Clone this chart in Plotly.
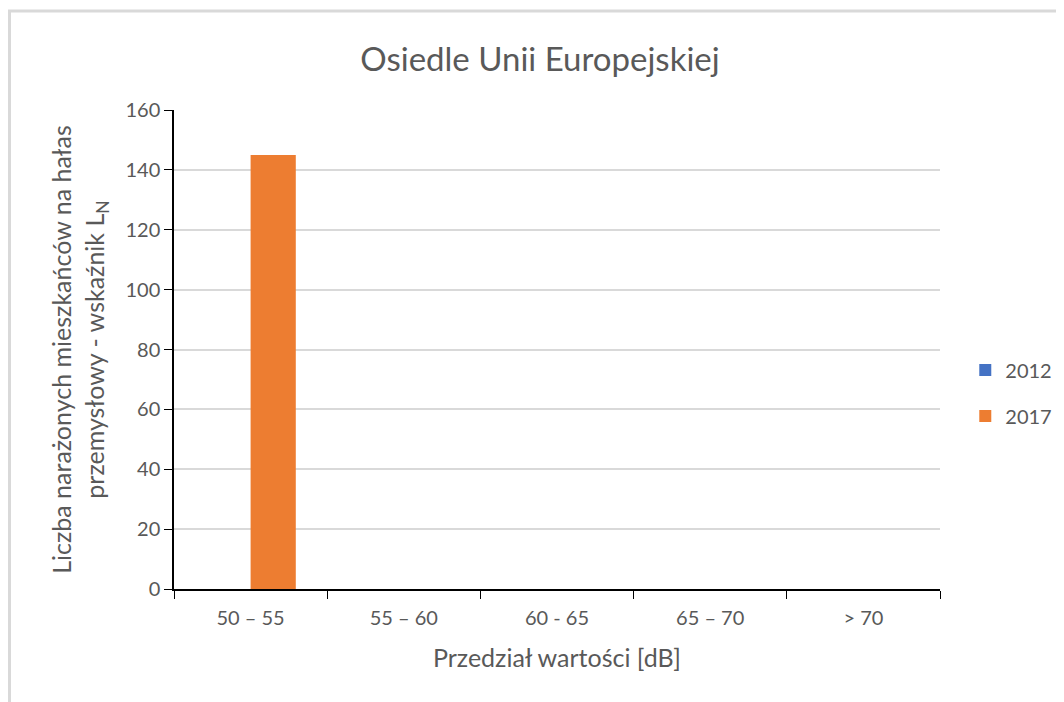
import plotly.graph_objects as go

categories = ["50 – 55", "55 – 60", "60 - 65", "65 – 70", "> 70"]
series_names = ["2012", "2017"]
values_2012 = [0, 0, 0, 0, 0]
values_2017 = [145, 0, 0, 0, 0]
colors = ["#4472C4", "#ED7D31"]
y_ticks = [0, 20, 40, 60, 80, 100, 120, 140, 160]

FONT = "Lato"
GRAY = "#595959"

ML, MR, MT, MB = 166, 132, 102, 121
W, H = 1064, 702
PW, PH = W - ML - MR, H - MT - MB

fig = go.Figure()
for name, vals, col in zip(series_names, [values_2012, values_2017], colors):
    fig.add_trace(go.Bar(x=categories, y=vals, name=name, marker_color=col,
                         marker_line_width=0, legendgroup=name))

fig.update_layout(
    width=W, height=H,
    paper_bgcolor="white", plot_bgcolor="white",
    margin=dict(l=ML, r=MR, t=MT, b=MB, autoexpand=False),
    barmode="group", bargap=0.41, bargroupgap=0,
    title=dict(text="Osiedle Unii Europejskiej", x=0.5, xanchor="center",
               y=0.926, yanchor="middle",
               font=dict(family=FONT, size=33, color=GRAY)),
    font=dict(family=FONT, color=GRAY),
    legend=dict(x=1.033, xanchor="left", y=0.409, yanchor="middle",
                font=dict(family=FONT, size=20, color=GRAY),
                itemwidth=30, tracegroupgap=17),
    xaxis=dict(showline=True, linecolor="black", linewidth=1.5,
               ticks="outside", tickson="boundaries", ticklen=8, tickcolor="black",
               ticklabelstandoff=10,
               tickfont=dict(family=FONT, size=20, color=GRAY),
               title=dict(text="Przedział wartości [dB]", standoff=22,
                          font=dict(family=FONT, size=25, color=GRAY))),
    yaxis=dict(range=[0, 160], tickvals=y_ticks, showline=True, linecolor="black",
               linewidth=1.5, ticks="outside", ticklen=8, tickcolor="black",
               showgrid=True, gridcolor="#D9D9D9", gridwidth=1.5,
               tickfont=dict(family=FONT, size=20, color=GRAY),
               title=dict(text="Liczba narażonych mieszkańców na hałas<br>przemysłowy - wskaźnik L<sub>N</sub>",
                          standoff=14, font=dict(family=FONT, size=25, color=GRAY))),
)

fig.add_shape(type="rect", xref="paper", yref="paper",
              x0=(1.5 - ML) / PW, x1=(W + 20 - ML) / PW,
              y0=-(MB + 20) / PH, y1=1 + (MT - 3) / PH,
              line=dict(color="#D9D9D9", width=3), fillcolor="rgba(0,0,0,0)",
              layer="below")

fig.write_html("out.html")
